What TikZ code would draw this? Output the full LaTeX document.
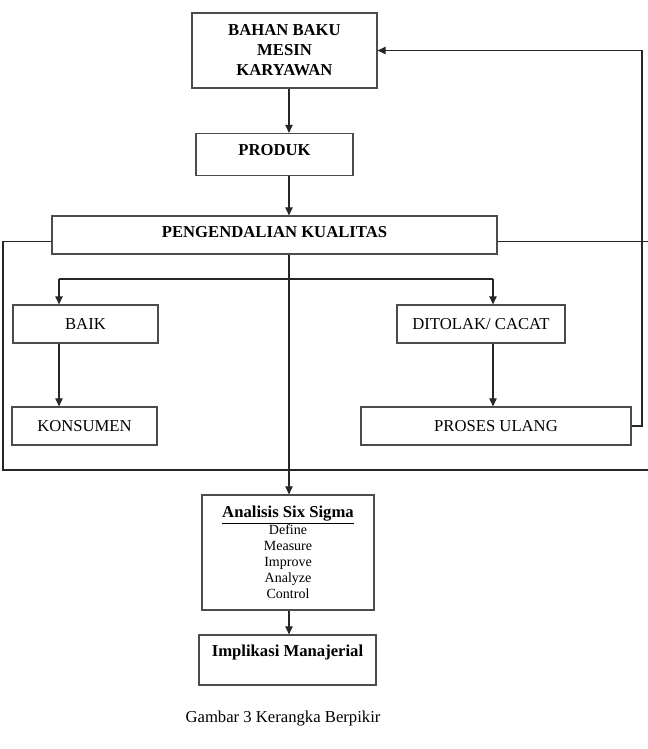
\documentclass[tikz,border=0pt]{standalone}
\usepackage{fontspec}
\setmainfont{Liberation Serif}
\usetikzlibrary{arrows.meta,positioning,calc}

\begin{document}
\begin{tikzpicture}[x=0.75pt, y=-0.75pt, line width=0.8pt, >={Triangle[length=6pt,width=5.5pt]},
    font=\fontsize{12.5}{15}\selectfont,
    box/.style={draw=black!70, line width=0.9pt, inner sep=2pt, align=center},
    bbox/.style={box, font=\fontsize{12.5}{15}\selectfont\bfseries},
    link/.style={->, black!85}]
  \useasboundingbox (0,0) rectangle (648,749);
  % ---- top chain
  \node[bbox, minimum width=138.75pt, minimum height=56.25pt] (bahan) at (284.5,50.5) {BAHAN BAKU\\MESIN\\KARYAWAN};
  \node[bbox, minimum width=117.75pt, minimum height=31.5pt, text height=9pt, text depth=7.7pt] (produk) at (274.5,154.5) {PRODUK};
  \node[bbox, minimum width=333.75pt, minimum height=28.5pt, text height=9pt, text depth=4.7pt] (kontrol) at (274.5,235) {PENGENDALIAN KUALITAS};
  % ---- the two outcomes
  \node[box, minimum width=108.75pt, minimum height=28.5pt] (baik) at (85.5,324) {BAIK};
  \node[box, minimum width=108.75pt, minimum height=28.5pt] (konsumen) at (84.5,426) {KONSUMEN};
  \node[box, minimum width=126pt, minimum height=28.5pt] (ditolak) at (481,324) {DITOLAK/ CACAT};
  \node[box, minimum width=202.5pt, minimum height=28.5pt] (proses) at (496,426) {PROSES ULANG};
  % ---- analysis
  \node[box, minimum width=129pt, minimum height=86.25pt, font=\fontsize{10.5}{12}\selectfont] (analisis) at (288,552.5)
    {{\fontsize{12.5}{12.5}\selectfont\bfseries\underline{Analisis Six Sigma}}\\Define\\Measure\\Improve\\Analyze\\Control};
  \node[bbox, minimum width=132.75pt, minimum height=37.5pt, text height=9pt, text depth=13.7pt] (implikasi) at (287.5,660) {Implikasi Manajerial};
  \node[anchor=base] (judul) at (283,722) {Gambar 3 Kerangka Berpikir};
  % ---- connectors
  \coordinate (trunk) at (289,0);
  \coordinate (kiri) at (59,279); \coordinate (kanan) at (493,279);
  \coordinate (loop) at (3,241.5); \coordinate (sudut) at (3,470);
  \coordinate (tepi) at (648,470); \coordinate (tepiatas) at (648,241.5);
  \coordinate (balik) at (642,50.5);
  \draw[link] (bahan.south -| trunk) -- (produk.north -| trunk);
  \draw[link] (produk.south -| trunk) -- (kontrol.north -| trunk);
  \draw[link] (kontrol.south -| trunk) -- (analisis.north -| trunk);
  \draw[link] (analisis.south -| trunk) -- (implikasi.north -| trunk);
  \draw[black!85] (kiri) -- (kanan);
  \draw[link] (kiri) -- (kiri |- baik.north);
  \draw[link] (kanan) -- (kanan |- ditolak.north);
  \draw[link] (kiri |- baik.south) -- (kiri |- konsumen.north);
  \draw[link] (kanan |- ditolak.south) -- (kanan |- proses.north);
  \draw[link] (proses.east) -| (balik) -- (bahan.east);
  \draw[black!85] (kontrol.west |- loop) -- (loop) -- (sudut) -- (tepi);
  \draw[black!85] (kontrol.east |- loop) -- (tepiatas);
\end{tikzpicture}
\end{document}
